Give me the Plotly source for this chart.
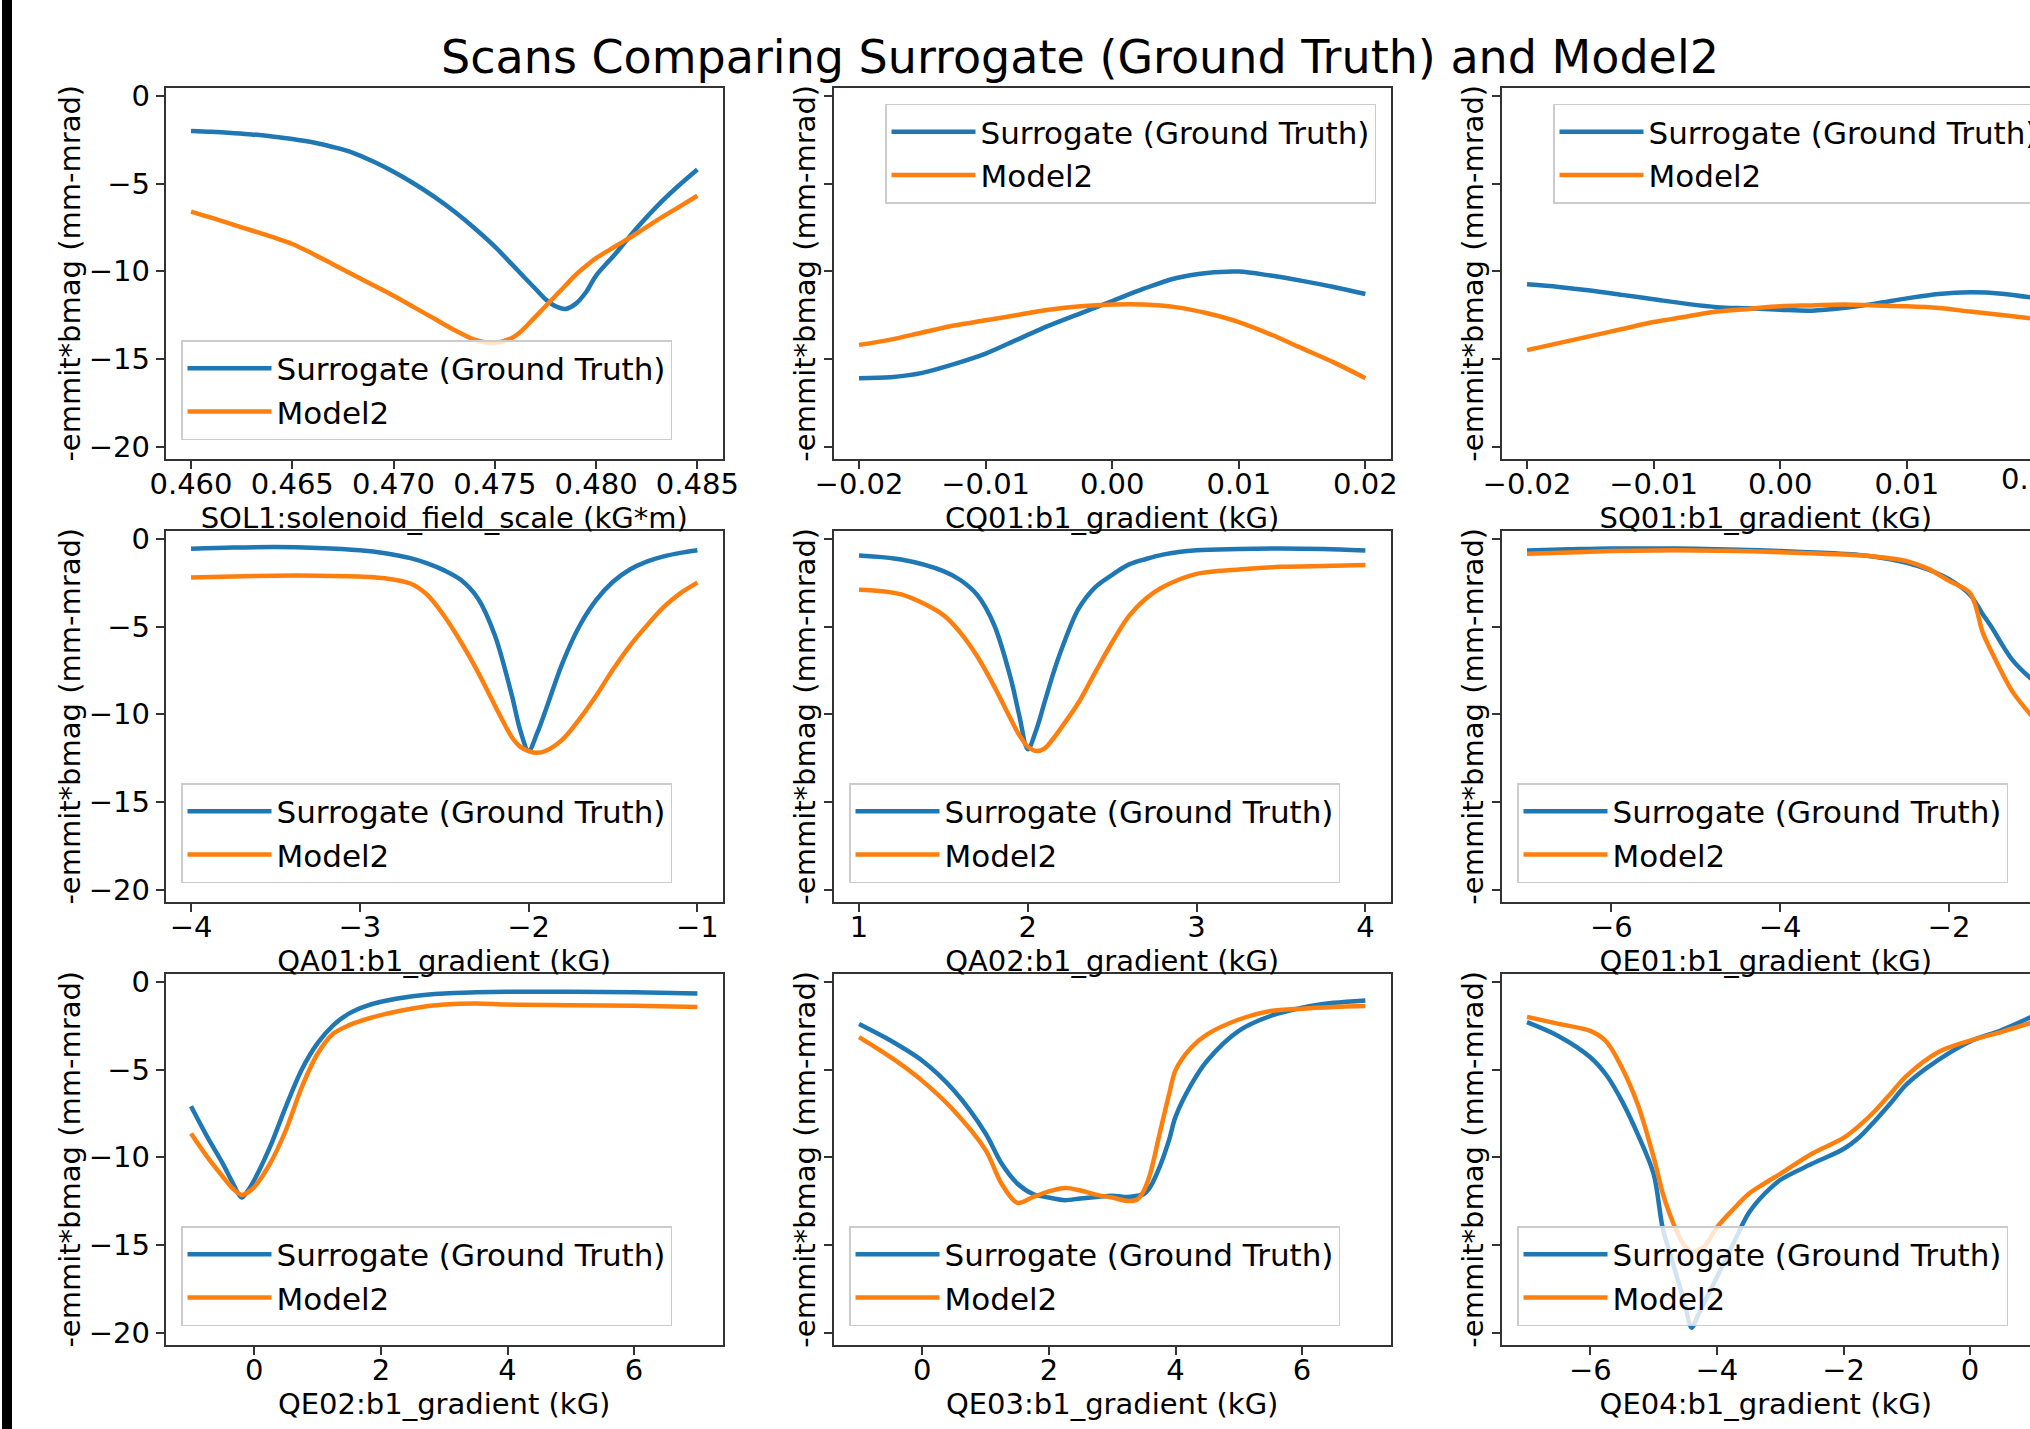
import plotly.graph_objects as go

W, H = 2030, 1429

TITLE = "Scans Comparing Surrogate (Ground Truth) and Model2"
SERIES = ["Surrogate (Ground Truth)", "Model2"]
COLORS = ["#1f77b4", "#ff7f0e"]
Y_TITLE = "-emmit*bmag (mm-mrad)"
Y_TICKS = [-20, -15, -10, -5, 0]
Y_RANGE = [-20.68, 0.445]

# ---------------- data ----------------
sol1_x = [0.460, 0.461, 0.462, 0.463, 0.464, 0.465, 0.466, 0.467, 0.468, 0.469, 0.470,
          0.471, 0.472, 0.473, 0.474, 0.475, 0.476, 0.477, 0.4775, 0.478, 0.4785, 0.479,
          0.4795, 0.480, 0.481, 0.482, 0.483, 0.484, 0.485]
sol1_surrogate = [-2.00, -2.05, -2.12, -2.20, -2.32, -2.46, -2.65, -2.92, -3.25, -3.75, -4.33,
                  -5.00, -5.75, -6.60, -7.55, -8.60, -9.80, -11.00, -11.60, -12.00, -12.15, -11.85,
                  -11.20, -10.25, -8.95, -7.55, -6.30, -5.20, -4.20]
sol1_model2 = [-6.60, -6.95, -7.32, -7.68, -8.05, -8.45, -9.00, -9.60, -10.20, -10.80, -11.40,
               -12.05, -12.70, -13.35, -13.90, -14.10, -13.70, -12.60, -12.00, -11.40, -10.80, -10.20,
               -9.70, -9.25, -8.55, -7.85, -7.10, -6.40, -5.70]
sol1_ticks = [0.460, 0.465, 0.470, 0.475, 0.480, 0.485]

cq01_x = [-0.02, -0.0175, -0.015, -0.0125, -0.01, -0.0075, -0.005, -0.0025, 0.0,
          0.0025, 0.005, 0.0075, 0.01, 0.0125, 0.015, 0.0175, 0.02]
cq01_surrogate = [-16.1, -16.05, -15.8, -15.3, -14.7, -13.9, -13.1, -12.4, -11.7,
                  -11.0, -10.4, -10.1, -10.02, -10.25, -10.55, -10.9, -11.3]
cq01_model2 = [-14.2, -13.9, -13.5, -13.1, -12.8, -12.5, -12.2, -12.0, -11.9,
               -11.9, -12.05, -12.4, -12.9, -13.6, -14.4, -15.2, -16.1]
cq01_ticks = [-0.02, -0.01, 0.0, 0.01, 0.02]

sq01_x = [-0.02, -0.0175, -0.015, -0.0125, -0.01, -0.0075, -0.005, -0.0025, 0.0,
          0.0025, 0.005, 0.0075, 0.01, 0.0125, 0.015, 0.0175, 0.02]
sq01_surrogate = [-10.75, -10.9, -11.1, -11.35, -11.6, -11.85, -12.05, -12.12, -12.2,
                  -12.25, -12.1, -11.85, -11.55, -11.3, -11.2, -11.28, -11.52]
sq01_model2 = [-14.5, -14.1, -13.7, -13.3, -12.9, -12.6, -12.3, -12.15, -12.0,
               -11.95, -11.9, -11.95, -12.0, -12.1, -12.3, -12.5, -12.7]
sq01_ticks = [-0.02, -0.01, 0.0, 0.01, 0.02]

qa01_x = [-4.0, -3.75, -3.5, -3.25, -3.0, -2.85, -2.7, -2.6, -2.5, -2.4, -2.3, -2.2, -2.1,
          -2.05, -2.0, -1.95, -1.9, -1.8, -1.7, -1.6, -1.5, -1.4, -1.3, -1.2, -1.1, -1.0]
qa01_surrogate = [-0.57, -0.50, -0.47, -0.52, -0.65, -0.82, -1.10, -1.40, -1.80, -2.35, -3.40, -5.50, -8.90,
                  -10.90, -12.10, -11.10, -9.80, -7.10, -5.00, -3.50, -2.45, -1.75, -1.30, -1.00, -0.80, -0.65]
qa01_model2 = [-2.20, -2.15, -2.10, -2.10, -2.15, -2.25, -2.55, -3.20, -4.40, -5.90, -7.60, -9.50, -11.30,
               -11.85, -12.10, -12.20, -12.10, -11.45, -10.30, -8.95, -7.45, -6.10, -4.95, -3.90, -3.10, -2.50]
qa01_ticks = [-4, -3, -2, -1]

qa02_x = [1.0, 1.25, 1.5, 1.6, 1.7, 1.8, 1.9, 1.95, 2.0, 2.05, 2.1, 2.15, 2.2, 2.3, 2.4,
          2.5, 2.6, 2.7, 2.8, 3.0, 3.25, 3.5, 3.75, 4.0]
qa02_surrogate = [-0.95, -1.18, -1.84, -2.35, -3.20, -4.90, -8.00, -10.10, -12.00, -10.90, -9.30, -7.70,
                  -6.30, -4.00, -2.75, -2.05, -1.46, -1.15, -0.90, -0.65, -0.58, -0.55, -0.58, -0.66]
qa02_model2 = [-2.90, -3.17, -4.35, -5.35, -6.70, -8.40, -10.30, -11.20, -11.85, -12.10, -11.95, -11.40,
               -10.75, -9.35, -7.60, -5.90, -4.40, -3.40, -2.75, -2.00, -1.75, -1.60, -1.55, -1.50]
qa02_ticks = [1, 2, 3, 4]

qe01_x = [-7.0, -6.5, -6.0, -5.5, -5.0, -4.5, -4.0, -3.5, -3.0, -2.75, -2.5, -2.25, -2.0,
          -1.75, -1.6, -1.5, -1.25, -1.0]
qe01_surrogate = [-0.66, -0.60, -0.55, -0.55, -0.57, -0.62, -0.70, -0.80, -0.95, -1.12, -1.37, -1.75,
                  -2.30, -3.20, -4.30, -5.00, -6.90, -8.10]
qe01_model2 = [-0.85, -0.78, -0.70, -0.66, -0.66, -0.70, -0.76, -0.85, -0.95, -1.08, -1.27, -1.70,
               -2.40, -3.10, -5.35, -6.40, -8.70, -10.20]
qe01_ticks = [-6, -4, -2, 0]

qe02_x = [-1.0, -0.75, -0.5, -0.35, -0.2, -0.1, 0.0, 0.25, 0.5, 0.75, 1.0, 1.25, 1.5, 1.75,
          2.0, 2.5, 3.0, 3.5, 4.0, 5.0, 6.0, 7.0]
qe02_surrogate = [-7.10, -8.80, -10.35, -11.40, -12.30, -11.90, -11.30, -9.40, -7.10, -5.00, -3.50, -2.47,
                  -1.80, -1.40, -1.14, -0.82, -0.66, -0.60, -0.57, -0.57, -0.60, -0.66]
qe02_model2 = [-8.65, -9.95, -11.10, -11.75, -12.15, -12.00, -11.70, -10.35, -8.45, -6.00, -4.10, -2.95,
               -2.47, -2.15, -1.90, -1.52, -1.30, -1.23, -1.30, -1.33, -1.37, -1.43]
qe02_ticks = [0, 2, 4, 6]

qe03_x = [-1.0, -0.5, 0.0, 0.5, 1.0, 1.25, 1.5, 1.75, 2.0, 2.25, 2.5, 2.75, 3.0, 3.25, 3.4,
          3.5, 3.6, 3.75, 3.9, 4.0, 4.25, 4.5, 5.0, 5.5, 6.0, 6.5, 7.0]
qe03_surrogate = [-2.40, -3.35, -4.50, -6.20, -8.65, -10.35, -11.50, -12.10, -12.30, -12.45, -12.35,
                  -12.27, -12.20, -12.27, -12.20, -12.10, -11.70, -10.55, -9.00, -7.70, -5.85, -4.50,
                  -2.80, -1.95, -1.48, -1.20, -1.06]
qe03_model2 = [-3.15, -4.30, -5.65, -7.35, -9.60, -11.50, -12.60, -12.27, -11.95, -11.75, -11.90,
               -12.15, -12.30, -12.50, -12.40, -11.90, -10.95, -8.65, -6.40, -5.05, -3.75, -3.00,
               -2.15, -1.67, -1.53, -1.44, -1.38]
qe03_ticks = [0, 2, 4, 6]

qe04_x = [-7.0, -6.5, -6.0, -5.75, -5.5, -5.25, -5.0, -4.86, -4.75, -4.6, -4.5, -4.4, -4.3, -4.2,
          -4.0, -3.75, -3.5, -3.25, -3.0, -2.5, -2.0, -1.75, -1.5, -1.25, -1.0, -0.5, 0.0, 0.5, 1.0]
qe04_surrogate = [-2.30, -3.10, -4.30, -5.30, -6.80, -8.70, -10.95, -13.98, -15.40, -17.20, -18.50,
                  -19.72, -19.03, -18.30, -16.85, -15.00, -13.20, -12.10, -11.30, -10.38, -9.53,
                  -8.86, -7.92, -6.90, -5.83, -4.45, -3.40, -2.75, -1.95]
qe04_model2 = [-2.00, -2.40, -2.80, -3.40, -4.90, -7.00, -10.00, -12.00, -13.20, -14.50, -15.10,
               -15.40, -15.30, -15.10, -14.00, -13.00, -12.10, -11.50, -10.95, -9.80, -8.90,
               -8.20, -7.35, -6.35, -5.35, -4.00, -3.35, -2.85, -2.30]
qe04_ticks = [-6, -4, -2, 0]

PANELS = [
    ("SOL1:solenoid_field_scale (kG*m)", sol1_x, sol1_surrogate, sol1_model2, sol1_ticks, ".3f", "lower left"),
    ("CQ01:b1_gradient (kG)", cq01_x, cq01_surrogate, cq01_model2, cq01_ticks, ".2f", "upper right"),
    ("SQ01:b1_gradient (kG)", sq01_x, sq01_surrogate, sq01_model2, sq01_ticks, ".2f", "upper right"),
    ("QA01:b1_gradient (kG)", qa01_x, qa01_surrogate, qa01_model2, qa01_ticks, "d", "lower left"),
    ("QA02:b1_gradient (kG)", qa02_x, qa02_surrogate, qa02_model2, qa02_ticks, "d", "lower left"),
    ("QE01:b1_gradient (kG)", qe01_x, qe01_surrogate, qe01_model2, qe01_ticks, "d", "lower left"),
    ("QE02:b1_gradient (kG)", qe02_x, qe02_surrogate, qe02_model2, qe02_ticks, "d", "lower left"),
    ("QE03:b1_gradient (kG)", qe03_x, qe03_surrogate, qe03_model2, qe03_ticks, "d", "lower left"),
    ("QE04:b1_gradient (kG)", qe04_x, qe04_surrogate, qe04_model2, qe04_ticks, "d", "lower left"),
]

# ---------------- layout geometry (px) ----------------
FONT = "DejaVu Sans"
FS = 29
LEG_FS = 31
AX_COLOR = "#333333"
COL_LEFT = [165.7, 833.7, 1501.7]
COL_W = 557.0
ROW_TOP = [88.0, 531.0, 974.0]
ROW_H = 370.5
XLABEL_SHIFT = -9

fig = go.Figure()
layout = {}

for i, (xlabel, xs, gt, m2, ticks, fmt, loc) in enumerate(PANELS):
    n = i + 1
    r, c = divmod(i, 3)
    sfx = "" if n == 1 else str(n)
    xa, ya, lg = "x" + sfx, "y" + sfx, "legend" + sfx

    for s, ys in enumerate((gt, m2)):
        fig.add_trace(go.Scatter(
            x=xs, y=ys, name=SERIES[s], mode="lines",
            line=dict(color=COLORS[s], width=4.5, shape="spline", smoothing=0.9),
            xaxis=xa, yaxis=ya, legend=lg, legendgroup=f"{lg}_{s}", showlegend=True,
        ))

    left = COL_LEFT[c]
    right = left + COL_W
    top = ROW_TOP[r]
    bottom = top + ROW_H
    lo, hi = min(xs), max(xs)
    pad = 0.05 * (hi - lo)
    lo, hi = lo - pad, hi + pad
    if right > W:  # panel cut by the right edge of the image
        vis_hi = lo + (hi - lo) * (W - left) / COL_W
        xdom, xrng = [left / W, 1.0], [lo, vis_hi]
        cut = True
    else:
        xdom, xrng = [left / W, right / W], [lo, hi]
        cut = False

    axis_common = dict(
        showgrid=False, zeroline=False, showline=True, linecolor=AX_COLOR, linewidth=2,
        ticks="outside", ticklen=8, tickwidth=2, tickcolor=AX_COLOR,
        tickfont=dict(family=FONT, size=FS, color="#000000"),
    )
    layout["xaxis" + sfx] = dict(
        axis_common, domain=xdom, range=xrng, anchor=ya, mirror=True,
        tickvals=ticks, tickformat=fmt, ticklabelstandoff=XLABEL_SHIFT,
        title=dict(text=xlabel, font=dict(family=FONT, size=FS, color="#000000"), standoff=3),
    )
    layout["yaxis" + sfx] = dict(
        axis_common, domain=[1 - bottom / H, 1 - top / H], range=Y_RANGE, anchor=xa,
        mirror=not cut, tickvals=Y_TICKS, showticklabels=(c == 0),
        title=dict(text=Y_TITLE, font=dict(family=FONT, size=FS, color="#000000"), standoff=0),
    )

    # partially visible tick labels beyond the cut edge
    if cut:
        for t in ticks:
            if t > xrng[1] and t <= hi:
                px = left + (t - lo) / (hi - lo) * COL_W
                fig.add_annotation(
                    text=f"{t:{fmt}}".replace("-", "\u2212"), x=px / W, xref="paper",
                    y=1 - bottom / H, yref="paper", yanchor="top", yshift=-10 - XLABEL_SHIFT,
                    xanchor="center", showarrow=False,
                    font=dict(family=FONT, size=FS, color="#000000"),
                )

    if loc == "lower left":
        lpos = dict(x=(left + 15.3) / W, xanchor="left", y=1 - (bottom - 18.5) / H, yanchor="bottom")
    else:
        lpos = dict(x=(right - 14.7) / W, xanchor="right", y=1 - (top + 15.6) / H, yanchor="top")
    layout[lg] = dict(
        lpos, bgcolor="rgba(255,255,255,0.8)", bordercolor="#cccccc", borderwidth=1.5,
        font=dict(family=FONT, size=LEG_FS, color="#000000"),
        itemwidth=84, traceorder="grouped", tracegroupgap=0,
    )

fig.update_layout(**layout)
fig.update_layout(
    width=W, height=H,
    margin=dict(l=0, r=0, t=0, b=0, autoexpand=False),
    paper_bgcolor="white", plot_bgcolor="white",
    font=dict(family=FONT, size=FS, color="#000000"),
    title=dict(text=TITLE, x=1080 / W, xanchor="center", y=1 - 57 / H, yanchor="middle",
               font=dict(family=FONT, size=46, color="#000000")),
    shapes=[dict(type="rect", xref="paper", yref="paper", x0=2 / W, x1=12 / W, y0=0, y1=1,
                 fillcolor="black", line=dict(width=0), layer="above")],
)

fig.write_html("out.html")
